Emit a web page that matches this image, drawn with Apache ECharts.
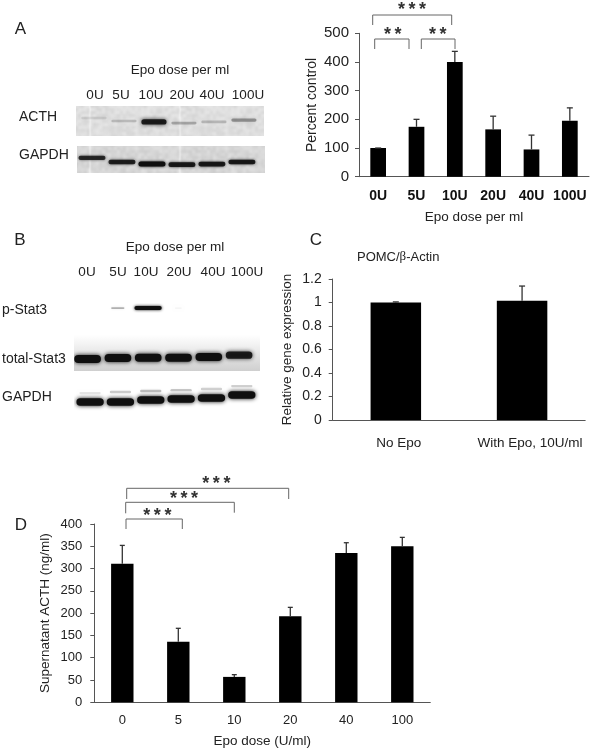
<!DOCTYPE html>
<html><head><meta charset="utf-8">
<style>html,body{margin:0;padding:0;background:#fff}#c{width:591px;height:750px}</style>
<script src="https://cdn.jsdelivr.net/npm/echarts@6/dist/echarts.min.js"></script>
</head><body><div id="c"></div>
<script>
// ---- data ----
const doseLabelsA = ['0U','5U','10U','20U','40U','100U'];
const percentControl = [100,174,400,165,95,195];
const percentControlErrTop = [100,200,437,211,145,240];
const exprLabels = ['No Epo','With Epo, 10U/ml'];
const relExpr = [1,1.015];
const relExprErrTop = [1.005,1.14];
const doseLabelsD = ['0','5','10','20','40','100'];
const supernatantACTH = [311,136,57,193,335,350];
const supernatantErrTop = [352,166,62,213,358,370];
// blot band intensity (0..1) and migration level (0..100 of the strip)
const acthBand = [.1,.18,.9,.27,.2,.36];
const acthLevel = [60,50,47,43,47,53];
const gapdhABand = [.8,.85,1,.9,.9,.9];
const gapdhALevel = [56,41,33,31,33,41];
const pStat3Band = [0,.3,1,.05,0,0];
const pStat3Level = [55,55,55,55,55,55];
const stat3Band = [1,1,1,1,1,.9];
const stat3Level = [33,36,37,37,39,44];
const gapdhBBand = [1,1,1,1,1,1];
const gapdhBLevel = [37,37,44,48,52,63];
const gapdhBUpperBand = [.1,.2,.25,.22,.18,.18];
const gapdhBUpperLevel = [70,74,78,81,85,96];

const FONT = '"Liberation Sans", Arial, sans-serif';
const INK = '#222';
const AXIS = '#555';

const grids=[], xAxes=[], yAxes=[], series=[];

function errRender(capW){
  return function(params,api){
    const i=api.value(0);
    const a=api.coord([i,api.value(1)]), b=api.coord([i,api.value(2)]);
    const st={stroke:'#333',lineWidth:1.3,fill:null};
    return {type:'group',children:[
      {type:'line',shape:{x1:a[0],y1:a[1],x2:b[0],y2:b[1]},style:st},
      {type:'line',shape:{x1:b[0]-capW/2,y1:b[1],x2:b[0]+capW/2,y2:b[1]},style:st}
    ]};
  };
}
function barPanel(o){
  const idx=grids.length;
  grids.push({left:o.left,top:o.top,width:o.width,height:o.height,containLabel:false});
  xAxes.push({gridIndex:idx,type:'category',data:o.cats,
    axisLine:{lineStyle:{color:AXIS,width:1}},
    axisTick:{length:4,lineStyle:{color:AXIS}},
    axisLabel:Object.assign({color:o.xColor||INK,fontFamily:FONT,fontSize:o.xSize,fontWeight:o.xWeight||'normal',margin:o.xMargin,interval:0},o.xLabelExtra||{}),
    name:o.xName||'',nameLocation:'middle',nameGap:o.xNameGap,nameMoveOverlap:false,
    nameTextStyle:{color:INK,fontFamily:FONT,fontSize:13.5}});
  yAxes.push({gridIndex:idx,type:'value',min:0,max:o.max,interval:o.interval,splitLine:{show:false},
    axisLine:{show:true,lineStyle:{color:AXIS,width:1}},
    axisTick:{show:true,length:4,lineStyle:{color:AXIS}},
    axisLabel:{color:INK,fontFamily:FONT,fontSize:o.ySize,margin:o.yMargin},
    name:o.yName,nameLocation:'middle',nameGap:o.yNameGap,nameRotate:90,nameMoveOverlap:false,
    nameTextStyle:{color:INK,fontFamily:FONT,fontSize:o.yNameSize}});
  series.push({type:'bar',xAxisIndex:idx,yAxisIndex:idx,data:o.values,barWidth:o.barWidth,
    itemStyle:{color:'#000'},silent:true,animation:false});
  series.push({type:'custom',xAxisIndex:idx,yAxisIndex:idx,clip:false,silent:true,animation:false,
    data:o.values.map((v,i)=>[i,v,o.tops[i]]),renderItem:errRender(o.capW),encode:{x:0,y:[1,2]},z:3});
}
barPanel({left:359,top:33.3,width:230,height:143.4,cats:doseLabelsA,values:percentControl,tops:percentControlErrTop,
  max:500,interval:100,barWidth:'41%',capW:6,xSize:14,xWeight:'bold',xColor:'#111',xMargin:12,xName:'Epo dose per ml',xNameGap:34,
  ySize:15,yMargin:10,yName:'Percent control',yNameGap:40,yNameSize:14});
barPanel({left:332.7,top:279,width:252.5,height:141,cats:exprLabels,values:relExpr,tops:relExprErrTop,
  max:1.2,interval:0.2,barWidth:'40%',capW:6,xSize:13.5,xMargin:16,
  xLabelExtra:{formatter:(v,i)=>i===0?'{a|'+v+'}':'{b|'+v+'}',rich:{a:{padding:[0,0,0,6],fontSize:13.5,fontFamily:FONT,color:INK},b:{padding:[0,0,0,16],fontSize:13.5,fontFamily:FONT,color:INK}}},
  ySize:14,yMargin:11,yName:'Relative gene expression',yNameGap:38,yNameSize:13.5});
barPanel({left:94.3,top:524,width:336,height:178.3,cats:doseLabelsD,values:supernatantACTH,tops:supernatantErrTop,
  max:400,interval:50,barWidth:'40%',capW:5,xSize:13,xMargin:12,xName:'Epo dose (U/ml)',xNameGap:32,
  ySize:13,yMargin:12,yName:'Supernatant ACTH (ng/ml)',yNameGap:42,yNameSize:13.5});

// soft mottled film texture for the blot strips (fixed hash, no random numbers)
function mottle(base,amp){
  const cell=3,n=30,size=n*cell;
  const raw=document.createElement('canvas');raw.width=raw.height=size;
  const r=raw.getContext('2d');
  for(let i=0;i<n;i++)for(let j=0;j<n;j++){
    const s=Math.sin(i*12.9898+j*78.233)*43758.5453;
    const v=Math.round(base+amp*(2*(s-Math.floor(s))-1));
    r.fillStyle='rgb('+v+','+v+','+v+')';r.fillRect(i*cell,j*cell,cell,cell);
  }
  const out=document.createElement('canvas');out.width=out.height=size;
  const c=out.getContext('2d');c.filter='blur(1.2px)';c.drawImage(raw,0,0);
  return {image:out,repeat:'repeat'};
}
function blot(o){
  let idx=grids.length;
  // lane positions follow from the strip geometry through a hidden value axis
  grids.push({show:true,left:o.left,top:o.top,width:o.width,height:o.height,borderWidth:0,backgroundColor:o.bg,containLabel:false});
  xAxes.push({gridIndex:idx,type:'value',show:false,min:o.xMin,max:o.xMax});
  yAxes.push({gridIndex:idx,type:'value',show:false,min:0,max:100});
  o.bands.forEach(b=>{
    series.push({type:'custom',xAxisIndex:idx,yAxisIndex:idx,clip:true,silent:true,animation:false,
      data:b.vals.map((v,i)=>[i,b.levels[i],v]),encode:{x:0,y:1},
      renderItem:function(params,api){
        const v=api.value(2); if(v<=0) return null;
        const c=api.coord([api.value(0),api.value(1)]);
        const pitch=api.size([1,0])[0];
        const h=b.h0+b.h1*v;
        const w=pitch*(b.fit?(0.18+0.72*Math.min(1,v*1.2)):b.w);
        const col='rgba(15,15,15,'+Math.min(1,v).toFixed(2)+')';
        return {type:'rect',shape:{x:c[0]-w/2,y:c[1]-h/2,width:w,height:h,r:h/2},
          style:{fill:col,shadowBlur:b.blur,shadowColor:col}};
      }});
  });
}
const strip=(a,b)=>({type:'linear',x:0,y:0,x2:0,y2:1,colorStops:[{offset:0,color:a},{offset:1,color:b}]});
blot({left:76,top:106,width:188,height:30,xMin:-0.6,xMax:5.67,bg:mottle(222,9),
  bands:[{vals:acthBand,levels:acthLevel,h0:2,h1:3.5,w:.84,blur:4}]});
blot({left:77,top:146,width:188,height:27,xMin:-0.5,xMax:5.77,bg:mottle(214,10),
  bands:[{vals:gapdhABand,levels:gapdhALevel,h0:1,h1:4,w:.9,blur:3}]});
blot({left:72,top:300,width:190,height:18,xMin:-0.51,xMax:5.76,bg:'#ffffff',
  bands:[{vals:pStat3Band,levels:pStat3Level,h0:1,h1:3,fit:true,blur:3}]});
blot({left:74,top:335,width:186,height:36,xMin:-0.45,xMax:5.69,bg:strip('#ffffff','#cfcfcf'),
  bands:[{vals:stat3Band,levels:stat3Level,h0:1,h1:7,w:.88,blur:4}]});
blot({left:74,top:385,width:186,height:27,xMin:-0.53,xMax:5.6,bg:'#ffffff',
  bands:[{vals:gapdhBUpperBand,levels:gapdhBUpperLevel,h0:2,h1:2,w:.7,blur:3},
         {vals:gapdhBBand,levels:gapdhBLevel,h0:1,h1:6.5,w:.9,blur:4}]});

// ---- annotations ----
function txt(text,x,y,size,align,extra){
  return {type:'text',silent:true,z:10,x:x,y:y,style:Object.assign({text:text,fill:INK,font:size+'px '+FONT,align:align||'center',verticalAlign:'middle'},extra||{})};
}
function bracket(x1,y1,yTop,x2,y2){
  return {type:'polyline',silent:true,z:10,shape:{points:[[x1,y1],[x1,yTop],[x2,yTop],[x2,y2]]},
    style:{stroke:'#666',lineWidth:1,fill:null}};
}
function stars(n,x,y){
  return txt(Array(n).fill('*').join('\u2009'),x,y+4,18,'center',{fill:'#333',font:'bold 18px '+FONT});
}
const g=[];
[['A',20.5,29],['B',20,240],['C',316,240],['D',21,525]].forEach(p=>g.push(txt(p[0],p[1],p[2],17)));
g.push(txt('Epo dose per ml',180,70,13.5));
[[95,'0U'],[121,'5U'],[151,'10U'],[182,'20U'],[212,'40U'],[248,'100U']].forEach(p=>g.push(txt(p[1],p[0],95,13.5)));
g.push(txt('ACTH',19,117,14,'left'));
g.push(txt('GAPDH',19,155,14,'left'));
g.push(txt('Epo dose per ml',175,247,13.5));
[[87,'0U'],[118,'5U'],[146,'10U'],[179,'20U'],[213,'40U'],[247,'100U']].forEach(p=>g.push(txt(p[1],p[0],272,13.5)));
g.push(txt('p-Stat3',2,310,14,'left'));
g.push(txt('total-Stat3',2,359,14,'left'));
g.push(txt('GAPDH',2,397,14,'left'));
g.push(txt('POMC/{b|β}-Actin',357,257,13,'left',{rich:{b:{font:'13px "Liberation Serif", serif',fill:INK}}}));
g.push(bracket(372.7,25,15,451.7,25),bracket(374.7,49,39,409,49),bracket(421.3,49,39,455,49));
g.push(stars(3,412,6),stars(2,392.7,31),stars(2,437.7,31));
g.push(bracket(126.7,499,488.3,288.7,499),bracket(125.7,513.3,502.3,234.3,512.7),bracket(126,529,519,182.3,529));
g.push(stars(3,216.3,480),stars(3,184,495),stars(3,157.3,512));

const chart=echarts.init(document.getElementById('c'),null,{renderer:'canvas'});
chart.setOption({animation:false,backgroundColor:'#fff',grid:grids,xAxis:xAxes,yAxis:yAxes,series:series,graphic:g,tooltip:{show:false}});
</script></body></html>
